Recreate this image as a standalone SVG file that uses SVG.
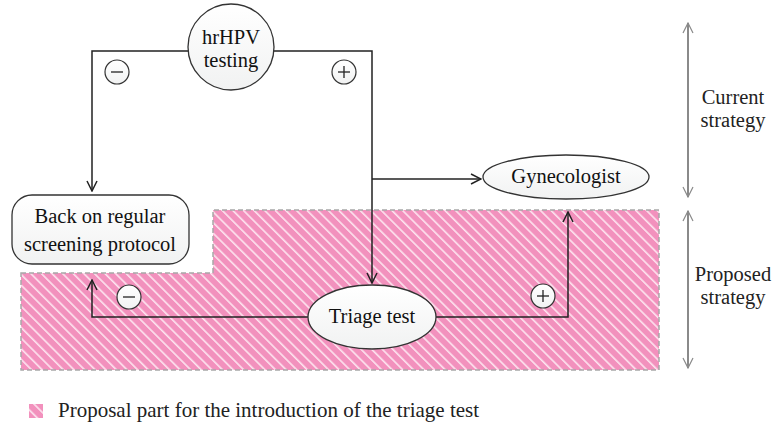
<svg xmlns="http://www.w3.org/2000/svg" width="781" height="426" viewBox="0 0 781 426">
<defs>
<pattern id="hatch" patternUnits="userSpaceOnUse" width="7.5" height="7.5" patternTransform="rotate(-45)">
<rect width="7.5" height="7.5" fill="#f291bd"/>
<rect x="0" y="0" width="1.6" height="7.5" fill="#fde4ef"/>
</pattern>
<marker id="arr" viewBox="0 0 12 12" refX="11" refY="6" markerWidth="12" markerHeight="12" markerUnits="userSpaceOnUse" orient="auto">
<path d="M1,1 L11,6 L1,11" fill="none" stroke="#222" stroke-width="1.5"/>
</marker>
<marker id="garr" viewBox="0 0 12 12" refX="11" refY="6" markerWidth="12" markerHeight="12" markerUnits="userSpaceOnUse" orient="auto-start-reverse">
<path d="M1,1 L11,6 L1,11" fill="none" stroke="#8a8a8a" stroke-width="1.2"/>
</marker>
<linearGradient id="nodefill" x1="0" y1="0" x2="0" y2="1">
<stop offset="0" stop-color="#ffffff"/>
<stop offset="1" stop-color="#f1f2f2"/>
</linearGradient>
</defs>
<style>
.node { fill: url(#nodefill); stroke: #333; stroke-width: 1.3; }
.t { font-family: "Liberation Serif", "Times New Roman", serif; font-size: 20.5px; fill: #111; text-anchor: middle; }
.lab { font-family: "Liberation Serif", "Times New Roman", serif; font-size: 20.5px; fill: #222; text-anchor: middle; }
.conn { fill: none; stroke: #222; stroke-width: 1.5; }
.sign { fill: url(#nodefill); stroke: #333; stroke-width: 1.2; }
.sg { stroke: #222; stroke-width: 1.3; }
.gray { stroke: #8a8a8a; stroke-width: 2; fill: none; }
</style>
<rect width="781" height="426" fill="#ffffff"/>

<g id="proposal-region">
<path d="M21,273 L213,273 L213,210 L659,210 L659,370 L21,370 Z" fill="url(#hatch)" stroke="#a8a8a8" stroke-width="1.5" stroke-dasharray="5 3"/>
</g>

<g id="connectors">
<path class="conn" d="M188,51 L92,51 L92,191" marker-end="url(#arr)"/>
<path class="conn" d="M274,51 L372,51 L372,283" marker-end="url(#arr)"/>
<path class="conn" d="M372,179 L481,179" marker-end="url(#arr)"/>
<path class="conn" d="M308,317 L92,317 L92,280" marker-end="url(#arr)"/>
<path class="conn" d="M436,317 L568,317 L568,212" marker-end="url(#arr)"/>
</g>

<g id="signs">
<g id="sign-minus-top"><circle class="sign" cx="117" cy="72" r="12"/><line class="sg" x1="111" y1="72" x2="123" y2="72"/></g>
<g id="sign-plus-top"><circle class="sign" cx="344" cy="72" r="12"/><line class="sg" x1="338" y1="72" x2="350" y2="72"/><line class="sg" x1="344" y1="66" x2="344" y2="78"/></g>
<g id="sign-minus-bottom"><circle class="sign" cx="129" cy="297" r="12"/><line class="sg" x1="123" y1="297" x2="135" y2="297"/></g>
<g id="sign-plus-bottom"><circle class="sign" cx="543" cy="296" r="12"/><line class="sg" x1="537" y1="296" x2="549" y2="296"/><line class="sg" x1="543" y1="290" x2="543" y2="302"/></g>
</g>

<g id="hrhpv">
<circle class="node" cx="231" cy="47" r="43"/>
<text class="t" x="231" y="44">hrHPV</text>
<text class="t" x="231" y="67">testing</text>
</g>

<g id="back-on-regular">
<rect class="node" x="12" y="195" width="177" height="69" rx="20" ry="20"/>
<text class="t" x="100" y="223">Back on regular</text>
<text class="t" x="100" y="251">screening protocol</text>
</g>

<g id="gynecologist">
<ellipse class="node" cx="566" cy="177" rx="83" ry="22"/>
<text class="t" x="566" y="183">Gynecologist</text>
</g>

<g id="triage-test">
<ellipse class="node" cx="372" cy="317" rx="64" ry="32"/>
<text class="t" x="372" y="323">Triage test</text>
</g>

<g id="strategy-axis">
<line class="gray" x1="688" y1="23" x2="688" y2="197" marker-start="url(#garr)" marker-end="url(#garr)"/>
<line class="gray" x1="688" y1="211" x2="688" y2="368" marker-start="url(#garr)" marker-end="url(#garr)"/>
<text class="lab" x="733" y="104">Current</text>
<text class="lab" x="733" y="127">strategy</text>
<text class="lab" x="733" y="281">Proposed</text>
<text class="lab" x="733" y="304">strategy</text>
</g>

<g id="legend">
<rect x="29" y="404" width="14" height="14" fill="url(#hatch)"/>
<text x="58" y="417" font-family="Liberation Serif, Times New Roman, serif" font-size="21" fill="#222">Proposal part for the introduction of the triage test</text>
</g>
</svg>
